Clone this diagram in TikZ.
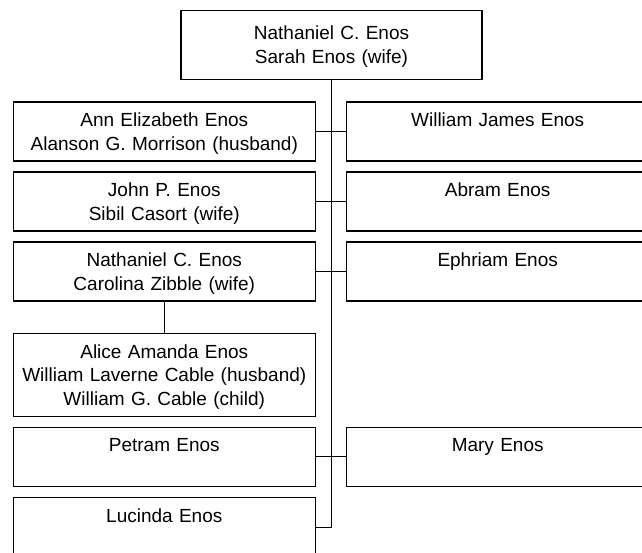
\documentclass[tikz,border=0pt]{standalone}
\usepackage{fontspec}
\setmainfont{Liberation Sans}
\newcommand\lnstrut{\rule[-5pt]{0pt}{23.5pt}}
\begin{document}
\begin{tikzpicture}[x=1pt,y=1pt,
  box/.style={draw=black, line width=1.1pt, rectangle, inner sep=0pt,
    minimum width=302pt, text width=302pt, align=center, minimum height=59pt,
    font=\fontsize{19}{23.5}\selectfont},
  link/.style={draw=black, line width=1.3pt}]
\useasboundingbox (0,0) rectangle (642,-552);
\fill[white] (0,0) rectangle (642,-552);
\clip (0,0) rectangle (642,-552);
% parents
\node[box, minimum width=301pt, text width=301pt, minimum height=69pt] (top) at (331.5,-44.6)
  {\lnstrut Nathaniel C. Enos\\\lnstrut Sarah Enos (wife)};
% row 1
\node[box] (ann) at (164.3,-131.5) {\lnstrut Ann Elizabeth Enos\\\lnstrut Alanson G. Morrison (husband)};
\node[box] (wj) at (497.7,-131.5) {\lnstrut William James Enos\\\lnstrut};
% row 2
\node[box] (john) at (164.3,-201.5) {\lnstrut John P. Enos\\\lnstrut Sibil Casort (wife)};
\node[box] (abram) at (497.7,-201.5) {\lnstrut Abram Enos\\\lnstrut};
% row 3
\node[box] (nat) at (164.3,-271.5) {\lnstrut Nathaniel C. Enos\\\lnstrut Carolina Zibble (wife)};
\node[box] (eph) at (497.7,-271.5) {\lnstrut Ephriam Enos\\\lnstrut};
% grandchild
\node[box, minimum height=83pt] (alice) at (164.3,-374.8)
  {\lnstrut Alice Amanda Enos\\\lnstrut William Laverne Cable (husband)\\\lnstrut William G. Cable (child)};
% row 4
\node[box] (petram) at (164.3,-456.8) {\lnstrut Petram Enos\\\lnstrut};
\node[box] (mary) at (497.7,-456.8) {\lnstrut Mary Enos\\\lnstrut};
% row 5
\node[box] (luc) at (164.3,-527.2) {\lnstrut Lucinda Enos\\\lnstrut};
% connectors
\draw[link] (top.south) -- (top.south |- luc.east) -- (luc.east);
\draw[link] (ann.east) -- (wj.west);
\draw[link] (john.east) -- (abram.west);
\draw[link] (nat.east) -- (eph.west);
\draw[link] (petram.east) -- (mary.west);
\draw[link] (nat.south) -- (alice.north);
\end{tikzpicture}
\end{document}
